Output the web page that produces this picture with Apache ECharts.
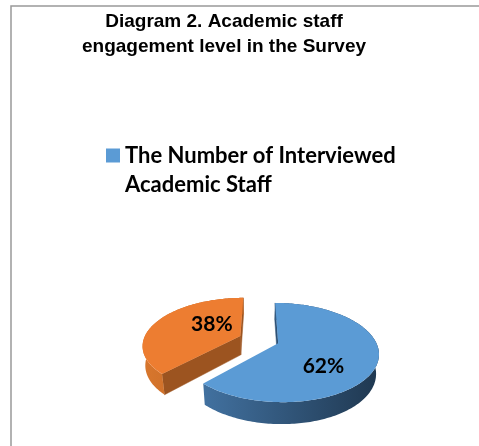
<!DOCTYPE html>
<html><head><meta charset="utf-8">
<script src="https://cdn.jsdelivr.net/npm/echarts@6/dist/echarts.min.js"></script>
<style>html,body{margin:0;padding:0;background:#fff}#c{width:479px;height:446px}</style>
</head><body><div id="c"></div>
<script>
// ---- data ----
const titleLines = ['Diagram 2. Academic staff', 'engagement level in the Survey'];
const seriesName = 'The Number of Interviewed Academic Staff';
const categories = ['Interviewed', 'Not interviewed'];
const shares = [62, 38];

// ---- styles ----
const topColors  = ['#5B9BD5', '#ED7D31'];
const wallLight  = ['#5089C1', '#DC792E'];
const wallDark   = ['#1D344B', '#8A4518'];
const cutColors  = ['#2C5075', '#9C5420'];
const labelNudge = [[3, 5], [9, -14]];

// ---- 3D projection parameters ----
const CX = 259, CY = 339.5, F = 455, D = 4.7;
const SIN_A = 0.48, COS_A = Math.sqrt(1 - SIN_A * SIN_A);
const EXPLODE = 0.21, H = 0.23;
const CAM = [0, -D * COS_A, D * SIN_A];

function project(X, Y, Z) {
  const yc = Z * COS_A + Y * SIN_A;
  const zc = D + Y * COS_A - Z * SIN_A;
  return [CX + F * X / zc, CY - F * yc / zc];
}

const total = shares.reduce((a, b) => a + b, 0);
const startAngles = [];
shares.reduce((acc, v, i) => { startAngles[i] = acc; return acc + v / total * Math.PI * 2; }, 0);

function renderItem(params, api) {
  const i = params.dataIndex;
  const a1 = startAngles[i];
  const a2 = a1 + api.value(1) / total * Math.PI * 2;
  const mid = (a1 + a2) / 2;
  const ox = EXPLODE * Math.sin(mid), oy = EXPLODE * Math.cos(mid);
  const P = (r, t, z) => project(ox + r * Math.sin(t), oy + r * Math.cos(t), z);
  const arc = (z, from, to) => {
    const n = Math.max(8, Math.ceil(Math.abs(to - from) / 0.02));
    const pts = [];
    for (let k = 0; k <= n; k++) pts.push(P(1, from + (to - from) * k / n, z));
    return pts;
  };
  const base = Math.round(-oy * 100) + 100;
  const children = [];
  // cut faces
  [[a1, -1], [a2, 1]].forEach(([t, s]) => {
    const n = [s * Math.cos(t), -s * Math.sin(t), 0];
    const p = [ox + 0.5 * Math.sin(t), oy + 0.5 * Math.cos(t), -H / 2];
    const dot = n[0] * (CAM[0] - p[0]) + n[1] * (CAM[1] - p[1]) + n[2] * (CAM[2] - p[2]);
    if (dot > 0) {
      children.push({
        type: 'polygon', z2: base,
        shape: { points: [P(0, t, 0), P(1, t, 0), P(1, t, -H), P(0, t, -H)] },
        style: { fill: cutColors[i], stroke: cutColors[i], lineWidth: 0.5 }
      });
    }
  });
  // outer wall
  children.push({
    type: 'polygon', z2: base + 1,
    shape: { points: arc(0, a1, a2).concat(arc(-H, a2, a1)) },
    style: {
      fill: { type: 'linear', x: 130, y: 0, x2: 390, y2: 0, global: true,
        colorStops: [{ offset: 0, color: wallLight[i] }, { offset: 1, color: wallDark[i] }] }
    }
  });
  // top face
  children.push({
    type: 'polygon', z2: base + 2,
    shape: { points: [P(0, a1, 0)].concat(arc(0, a1, a2)) },
    style: { fill: topColors[i] }
  });
  // label
  const lp = project(ox + 0.45 * Math.sin(mid), oy + 0.45 * Math.cos(mid), -H / 2);
  children.push({
    type: 'text', z2: base + 3,
    style: {
      text: Math.round(api.value(1) / total * 100) + '%',
      x: lp[0] + labelNudge[i][0], y: lp[1] + labelNudge[i][1],
      align: 'center', verticalAlign: 'middle',
      font: 'bold 21px Lato', fill: '#000'
    }
  });
  return { type: 'group', children: children };
}

const chart = echarts.init(document.getElementById('c'), null, { renderer: 'canvas' });
chart.setOption({
  animation: false,
  backgroundColor: '#fff',
  title: {
    text: titleLines.join('\n'),
    left: 224, top: 9.5, padding: 0, textAlign: 'center',
    textStyle: { fontFamily: 'Liberation Sans', fontWeight: 'bold', fontSize: 19, lineHeight: 25, color: '#000' }
  },
  legend: {
    data: [seriesName], left: 106, top: 112, padding: 0,
    itemWidth: 14, itemHeight: 14, icon: 'rect',
    formatter: n => '\n' + n.replace('Interviewed ', 'Interviewed\n'),
    textStyle: { fontFamily: 'Lato', fontWeight: 'bold', fontSize: 22, lineHeight: 29, color: '#000' }
  },
  graphic: [{
    type: 'polyline', silent: true,
    shape: { points: [[11, 446], [11, 6], [479, 6]] },
    style: { stroke: '#999', lineWidth: 1.5, fill: null }
  }],
  series: [{
    type: 'custom', name: seriesName, coordinateSystem: 'none',
    itemStyle: { color: topColors[0] },
    data: categories.map((c, i) => [c, shares[i]]),
    renderItem: renderItem
  }]
});
</script></body></html>
